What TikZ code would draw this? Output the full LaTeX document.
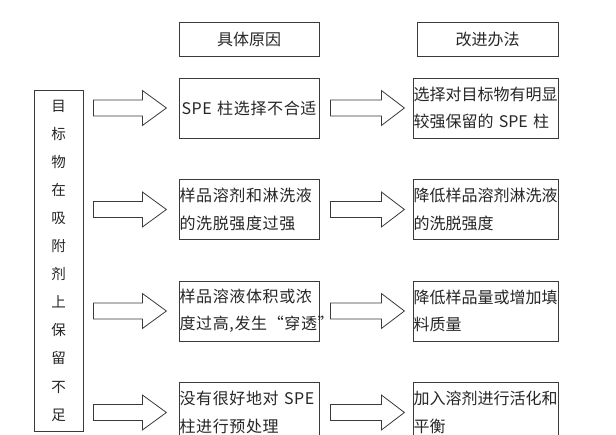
\documentclass[tikz,border=0pt]{standalone}
\usepackage{fontspec}
\setmainfont{Noto Sans CJK SC}
\usetikzlibrary{calc}

\definecolor{linegray}{HTML}{3A3A3A}
\definecolor{inkgray}{HTML}{262626}

\tikzset{
  box/.style={draw=linegray, line width=0.8pt, minimum height=60pt,
    inner sep=0.5pt, text=inkgray, align=left,
    font=\fontsize{16}{27.5}\selectfont},
  causebox/.style={box, text width=139pt,
    font=\fontsize{16}{27.5}\selectfont\addfontfeature{LetterSpace=4}},
  fixbox/.style={box, text width=144pt},
  headbox/.style={box, minimum height=34pt, align=center},
  blockarrow/.style={draw=linegray, line width=0.8pt, fill=white},
}

\begin{document}
\begin{tikzpicture}[x=1pt, y=-1pt]

  \useasboundingbox (0,0) rectangle (616,435);
  \fill[white] (0,0) rectangle (616,435);
  \clip (0,0) rectangle (616,435);

  % Kopjes
  \node[headbox, minimum width=140pt] (hdrcause) at (249,39) {具体原因};
  \node[headbox, minimum width=141pt] (hdrfix) at (487.5,39) {改进办法};

  % Linker kolom
  \node[draw=linegray, line width=0.8pt, text=inkgray,
    minimum width=49pt, minimum height=341pt, inner sep=0pt,
    align=center, font=\fontsize{14.5}{28.1}\selectfont]
    (target) at (58.5,260.5)
    {目\\标\\物\\在\\吸\\附\\剂\\上\\保\\留\\不\\足};

  % Oorzaken
  \node[causebox, align=center] (cause1) at (249,108) {SPE 柱选择不合适};
  \node[causebox] (cause2) at (249,209.5) {样品溶剂和淋洗液\\的洗脱强度过强};
  \node[causebox] (cause3) at (249,311) {样品溶液体积或浓\\度过高,发生“穿透”};
  \node[causebox] (cause4) at (249,412.5) {没有很好地对 SPE\\柱进行预处理};

  % Oplossingen
  \node[fixbox] (fix1) at (485.5,108) {选择对目标物有明显\\较强保留的 SPE 柱};
  \node[fixbox] (fix2) at (485.5,209.5) {降低样品溶剂淋洗液\\的洗脱强度};
  \node[fixbox] (fix3) at (485.5,311) {降低样品量或增加填\\料质量};
  \node[fixbox] (fix4) at (485.5,412.5) {加入溶剂进行活化和\\平衡};

  % Blokpijlen
  \foreach \i in {1,...,4} {
    \draw[blockarrow] ($(target.east |- cause\i)+(10,0)$)
      ++(0,-8) -- ++(49,0) -- ++(0,-9.5) -- ++(24,17.5)
      -- ++(-24,17.5) -- ++(0,-9.5) -- ++(-49,0) -- cycle;
    \draw[blockarrow] ($(cause\i.east)+(11,0)$)
      ++(0,-8) -- ++(51,0) -- ++(0,-9.5) -- ++(23,17.5)
      -- ++(-23,17.5) -- ++(0,-9.5) -- ++(-51,0) -- cycle;
  }

\end{tikzpicture}
\end{document}
